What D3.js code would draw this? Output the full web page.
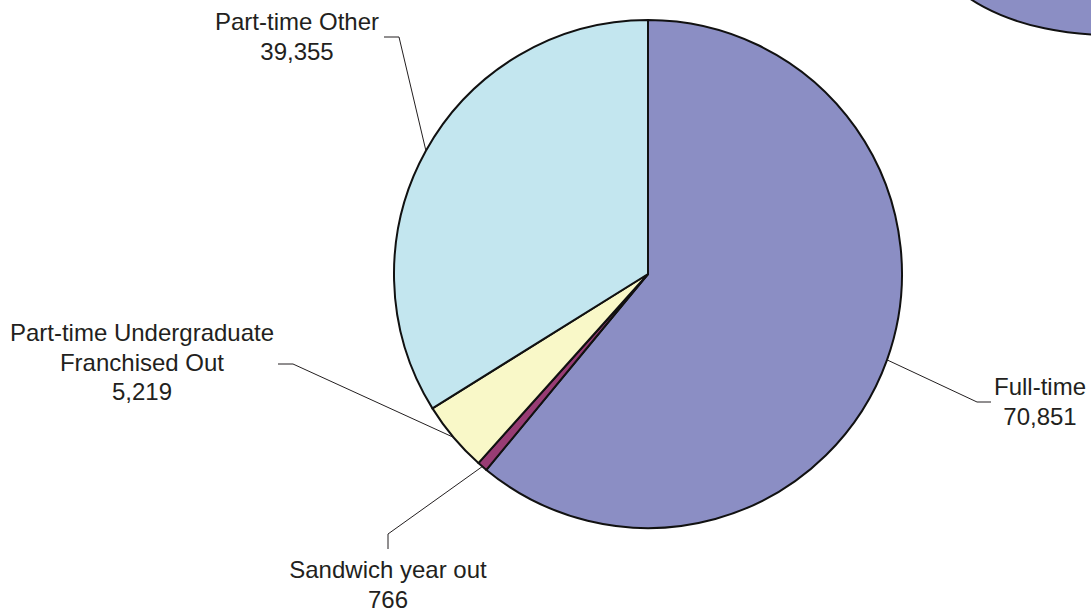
<!DOCTYPE html>
<html>
<head>
<meta charset="utf-8">
<script src="https://cdn.jsdelivr.net/npm/d3@7"></script>
<style>
  html, body { margin: 0; padding: 0; background: #fff; }
  svg { display: block; }
  text { font-family: "Liberation Sans", Arial, sans-serif; fill: #231f20; }
</style>
</head>
<body>
<svg id="chart" width="1091" height="613"></svg>
<script>
// Student headcount by mode of study
const categories = ["Full-time", "Sandwich year out", "Part-time Undergraduate\nFranchised Out", "Part-time Other"];
const values = [70851, 766, 5219, 39355];
const colors = ["#8b8ec4", "#983c74", "#f9f8c8", "#c3e6ef"];

// Label placement: elbow point of the leader line, end of leader, and first-line baseline of the text
const labelLayout = [
  { elbow: [977, 402], end: [991, 402], text: [1040, 395] },
  { elbow: [388, 534], end: [388, 549], text: [388, 578] },
  { elbow: [293, 364], end: [278, 364], text: [142, 341] },
  { elbow: [399, 37],  end: [384, 37],  text: [297, 30] }
];

const svg = d3.select("#chart");
const cx = 648, cy = 274, r = 254;
const lineGap = 29.5;

// Partial ellipse of a neighbouring chart visible at the top-right edge
svg.append("ellipse")
  .attr("cx", 1110).attr("cy", -60)
  .attr("rx", 178).attr("ry", 95)
  .attr("fill", colors[0])
  .attr("stroke", "#111").attr("stroke-width", 2);

const data = categories.map((c, i) => ({ name: c, value: values[i], color: colors[i], layout: labelLayout[i] }));

const pie = d3.pie().sort(null).value(d => d.value).startAngle(0).endAngle(2 * Math.PI);
const arcs = pie(data);
const arc = d3.arc().innerRadius(0).outerRadius(r);

const g = svg.append("g").attr("transform", `translate(${cx},${cy})`);

g.selectAll("path.slice")
  .data(arcs)
  .join("path")
  .attr("class", "slice")
  .attr("d", arc)
  .attr("fill", d => d.data.color)
  .attr("stroke", "#111")
  .attr("stroke-width", 2)
  .attr("stroke-linejoin", "round");

// Leader lines from the middle of each slice's outer edge, then the labels
arcs.forEach(d => {
  const a = (d.startAngle + d.endAngle) / 2;
  const px = cx + r * Math.sin(a), py = cy - r * Math.cos(a);
  const L = d.data.layout;
  svg.append("polyline")
    .attr("points", [[px, py], L.elbow, L.end].map(p => p.join(",")).join(" "))
    .attr("fill", "none")
    .attr("stroke", "#231f20")
    .attr("stroke-width", 1);

  const lines = d.data.name.split("\n").concat([d3.format(",")(d.data.value)]);
  const t = svg.append("text")
    .attr("text-anchor", "middle")
    .attr("font-size", 24);
  lines.forEach((ln, i) => {
    t.append("tspan")
      .attr("x", L.text[0])
      .attr("y", L.text[1] + i * lineGap)
      .text(ln);
  });
});
</script>
</body>
</html>
